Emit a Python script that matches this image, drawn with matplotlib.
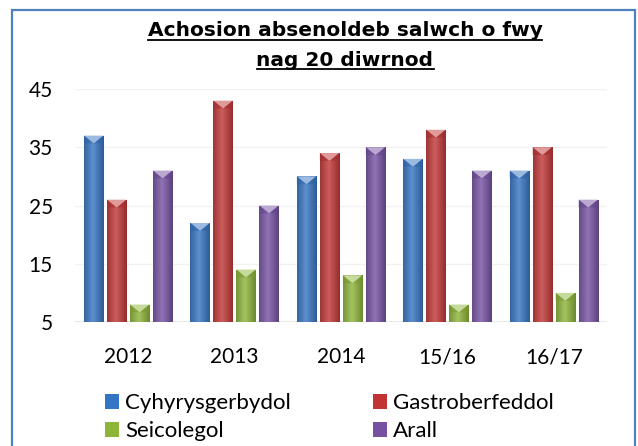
import matplotlib
matplotlib.use("Agg")
import matplotlib.pyplot as plt
import matplotlib.colors as mcolors
from matplotlib.patches import Polygon, Rectangle
import numpy as np

categories = ["2012", "2013", "2014", "15/16", "16/17"]
series_names = ["Cyhyrysgerbydol", "Gastroberfeddol", "Seicolegol", "Arall"]
cyhyrysgerbydol = [37, 22, 30, 33, 31]
gastroberfeddol = [26, 43, 34, 38, 35]
seicolegol = [8, 14, 13, 8, 10]
arall = [31, 25, 35, 31, 26]
yticks = [5, 15, 25, 35, 45]
title_lines = ["Achosion absenoldeb salwch o fwy", "nag 20 diwrnod"]

series = [cyhyrysgerbydol, gastroberfeddol, seicolegol, arall]
colors = ["#3474C4", "#C23434", "#8DB537", "#7550A3"]

FONT = ["Lato", "DejaVu Sans"]
plt.rcParams['font.family'] = FONT

fig = plt.figure(figsize=(6.38, 4.46), dpi=100)
fig.patch.set_facecolor("white")

# outer frame
fig.add_artist(Rectangle((12/638, -0.05), (635-12)/638, 1.05 - 10/446,
                         transform=fig.transFigure, fill=False,
                         edgecolor="#4F81BD", linewidth=1.6))

ax = fig.add_axes([75/638, 1-322/446, (607-75)/638, (322-89)/446])
ax.set_xlim(-0.5, len(categories) - 0.5)
ax.set_ylim(5, 45)
ax.set_yticks(yticks)
ax.set_yticklabels([str(v) for v in yticks], fontsize=15)
ax.set_xticks(range(len(categories)))
ax.set_xticklabels(categories, fontsize=15)
ax.tick_params(length=0)
ax.tick_params(axis='y', pad=16)
ax.tick_params(axis='x', pad=18)
for s in ax.spines.values():
    s.set_visible(False)
ax.grid(axis='y', color="#F2F2F2", linewidth=1)
ax.axhline(5, color="#E6E6E6", linewidth=1.2, zorder=1)
ax.set_axisbelow(True)

step = 0.216
width = 0.182
x = np.arange(len(categories))
grad = np.linspace(0, 1, 64)
profile = 1 - np.abs(grad - 0.45) * 1.6
profile = np.clip(profile, 0, 1)

handles = []
for i, (vals, col) in enumerate(zip(series, colors)):
    pos = x + (i - 1.5) * step
    bars = ax.bar(pos, np.array(vals) - 5, width=width, bottom=5, color=col,
                  label=series_names[i], zorder=2, edgecolor="none")
    handles.append(bars)
    rgb = np.array(mcolors.to_rgb(col))
    dark = rgb * 0.72
    light = np.clip(rgb + (1 - rgb) * 0.2, 0, 1)
    img = (dark[None, :] * (1 - profile[:, None]) + light[None, :] * profile[:, None])
    img = img[None, :, :]
    for b in bars:
        x0, y0 = b.get_x(), b.get_y()
        w, h = b.get_width(), b.get_height()
        im = ax.imshow(img, extent=[x0, x0 + w, y0, y0 + h], aspect='auto',
                       zorder=2.1, interpolation='bilinear')
        im.set_clip_path(b)
        depth = 1.35
        tri_col = np.clip(rgb + (1 - rgb) * 0.5, 0, 1)
        ax.add_patch(Polygon([[x0, y0 + h], [x0 + w, y0 + h], [x0 + w / 2, y0 + h - depth]],
                             closed=True, facecolor=tri_col, edgecolor="none", zorder=2.2))
        ax.add_patch(Polygon([[x0, y0 + h], [x0 + w / 2, y0 + h - depth], [x0, y0 + h - depth]],
                             closed=True, facecolor=rgb * 0.85, edgecolor="none", zorder=2.2, alpha=0.5))
        ax.add_patch(Polygon([[x0 + w, y0 + h], [x0 + w / 2, y0 + h - depth], [x0 + w, y0 + h - depth]],
                             closed=True, facecolor=rgb * 0.85, edgecolor="none", zorder=2.2, alpha=0.5))
ax.set_xlim(-0.5, len(categories) - 0.5)
ax.set_ylim(5, 45)

order = [0, 2, 1, 3]
leg = fig.legend(handles=[handles[k] for k in order],
                 labels=[series_names[k] for k in order], loc="upper left",
                 bbox_to_anchor=(105/638, 1 - 393/446), ncol=2, frameon=False,
                 fontsize=16, handlelength=0.65, handleheight=0.65,
                 handletextpad=0.25, columnspacing=3.7, labelspacing=0.36,
                 borderpad=0, borderaxespad=0)

# title with underline
t1 = fig.text(345/638, 1 - 31/446, title_lines[0], ha="center", va="center",
              fontsize=14.5, fontweight="bold", family=["DejaVu Sans"])
t2 = fig.text(345/638, 1 - 60/446, title_lines[1], ha="center", va="center",
              fontsize=14.5, fontweight="bold", family=["DejaVu Sans"])
fig.canvas.draw()
r = fig.canvas.get_renderer()
for t in (t1, t2):
    bb = t.get_window_extent(r)
    yline = bb.y0 + 1
    fig.add_artist(plt.Line2D([bb.x0 / 638, bb.x1 / 638],
                              [yline / 446, yline / 446], transform=fig.transFigure,
                              color="black", linewidth=1.3))

fig.savefig("out.png", dpi=100)
